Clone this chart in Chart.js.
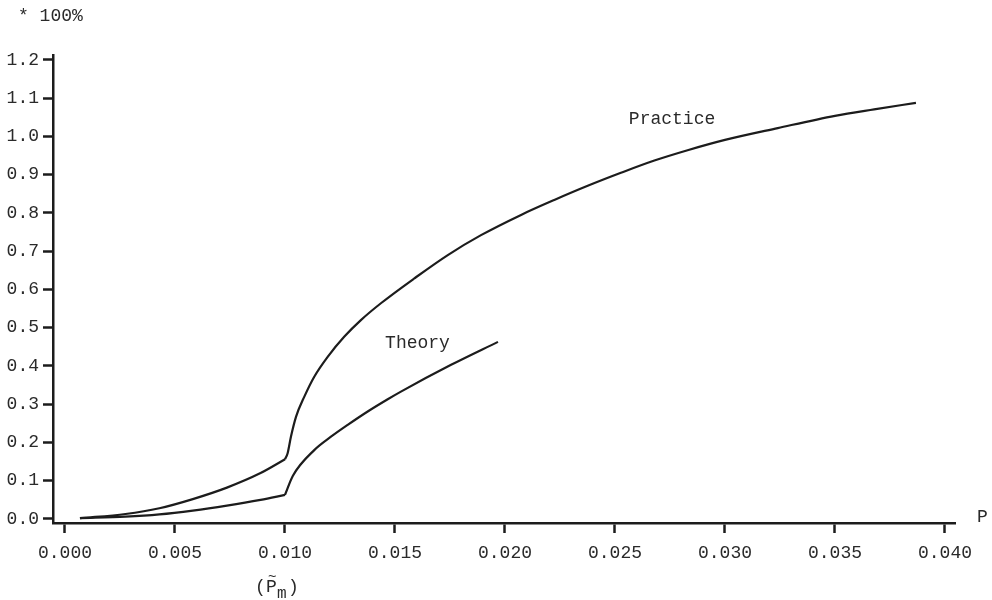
<!DOCTYPE html>
<html>
<head>
<meta charset="utf-8">
<script src="https://cdn.jsdelivr.net/npm/chart.js@4.4.1/dist/chart.umd.min.js"></script>
<style>
  html, body { margin: 0; padding: 0; background: #fff; }
  #wrap { width: 992px; height: 600px; position: relative; }
</style>
</head>
<body>
<div id="wrap"><canvas id="chart"></canvas></div>
<script>
// values
const practiceP = [0.00068, 0.00275, 0.00429, 0.00581, 0.00736, 0.00889, 0.0100,
  0.01012, 0.01027, 0.0105, 0.01088, 0.01133, 0.01194, 0.0127, 0.01345,
  0.01436, 0.01588, 0.0174, 0.01891, 0.02073, 0.02224, 0.02376, 0.02527,
  0.02679, 0.0283, 0.0300, 0.0324, 0.0350, 0.03678, 0.03868];
const practiceY = [0.002, 0.013, 0.028, 0.052, 0.082, 0.120, 0.156,
  0.172, 0.215, 0.267, 0.320, 0.372, 0.424, 0.477, 0.520,
  0.564, 0.629, 0.690, 0.742, 0.795, 0.834, 0.871, 0.905,
  0.937, 0.964, 0.991, 1.022, 1.054, 1.071, 1.088];

const theoryP = [0.00068, 0.00275, 0.00429, 0.00581, 0.00736, 0.00889, 0.0100,
  0.01036, 0.01133, 0.01209, 0.01285, 0.01376, 0.01467, 0.01527, 0.01755, 0.01968];
const theoryY = [0.002, 0.006, 0.012, 0.022, 0.035, 0.050, 0.063,
  0.113, 0.180, 0.215, 0.246, 0.281, 0.313, 0.333, 0.403, 0.463];

const xTicks = [0.000, 0.005, 0.010, 0.015, 0.020, 0.025, 0.030, 0.035, 0.040];
const yTicks = [0.0, 0.1, 0.2, 0.3, 0.4, 0.5, 0.6, 0.7, 0.8, 0.9, 1.0, 1.1, 1.2];

const kneeP = 0.010; // (P~m), both curves bend here
const ink = "#1c1c1c";
const textInk = "#2a2a2a";
const mono = "'Liberation Mono', 'DejaVu Sans Mono', monospace";

function toPoints(ps, ys) {
  return ps.map(function (p, i) { return { x: p, y: ys[i] }; });
}

// split a curve at the knee so the corner stays sharp
function splitAtKnee(points) {
  return [
    points.filter(function (pt) { return pt.x <= kneeP; }),
    points.filter(function (pt) { return pt.x >= kneeP; }),
  ];
}

function lineSet(data) {
  return {
    data: data,
    borderColor: ink,
    borderWidth: 2.2,
    pointRadius: 0,
    fill: false,
    cubicInterpolationMode: "monotone",
  };
}

const practiceParts = splitAtKnee(toPoints(practiceP, practiceY));
const theoryParts = splitAtKnee(toPoints(theoryP, theoryY));

const notes = {
  id: "notes",
  afterDraw(chart) {
    const ctx = chart.ctx;
    const xs = chart.scales.x;
    const ys = chart.scales.y;
    ctx.save();
    ctx.fillStyle = textInk;
    ctx.textBaseline = "middle";
    ctx.textAlign = "left";
    ctx.font = "18px " + mono;

    ctx.fillText("* 100%", 18, 16);
    ctx.fillText("Practice", xs.getPixelForValue(0.02563), ys.getPixelForValue(1.046));
    ctx.fillText("Theory", xs.getPixelForValue(0.01455), ys.getPixelForValue(0.46));
    ctx.fillText("P", chart.chartArea.right + 22, chart.chartArea.bottom - 6);

    // (P~m) under the 0.010 tick
    const kx = xs.getPixelForValue(kneeP) - 30;
    const ky = 587;
    ctx.fillText("(", kx, ky);
    ctx.fillText("P", kx + 11, ky);
    ctx.font = "14px " + mono;
    ctx.fillText("~", kx + 13, ky - 10);
    ctx.font = "16px " + mono;
    ctx.fillText("m", kx + 22, ky + 7);
    ctx.font = "18px " + mono;
    ctx.fillText(")", kx + 33, ky);
    ctx.restore();
  },
};

new Chart(document.getElementById("chart"), {
  type: "line",
  data: {
    datasets: [
      lineSet(practiceParts[0]),
      lineSet(practiceParts[1]),
      lineSet(theoryParts[0]),
      lineSet(theoryParts[1]),
    ],
  },
  options: {
    responsive: true,
    maintainAspectRatio: false,
    animation: false,
    layout: { padding: { top: 55, right: 37, left: 0, bottom: 0 } },
    plugins: { legend: { display: false }, tooltip: { enabled: false } },
    scales: {
      x: {
        type: "linear",
        min: -0.000545,
        max: 0.040455,
        afterFit: function (s) { s.height = 77; },
        afterBuildTicks: function (s) {
          s.ticks = xTicks.map(function (v) { return { value: v }; });
        },
        ticks: {
          color: textInk,
          font: { family: mono, size: 18 },
          padding: 9,
          maxRotation: 0,
          autoSkip: false,
          callback: function (v) { return Number(v).toFixed(3); },
        },
        grid: {
          drawOnChartArea: false,
          drawTicks: true,
          tickLength: 10,
          tickWidth: 2.5,
          tickColor: ink,
        },
        border: { display: true, width: 2.5, color: ink },
      },
      y: {
        type: "linear",
        min: -0.0105,
        max: 1.213,
        afterFit: function (s) { s.width = 53; },
        afterBuildTicks: function (s) {
          s.ticks = yTicks.map(function (v) { return { value: v }; });
        },
        ticks: {
          color: textInk,
          font: { family: mono, size: 18 },
          padding: 4,
          autoSkip: false,
          callback: function (v) { return Number(v).toFixed(1); },
        },
        grid: {
          drawOnChartArea: false,
          drawTicks: true,
          tickLength: 10,
          tickWidth: 2.5,
          tickColor: ink,
        },
        border: { display: true, width: 2.5, color: ink },
      },
    },
  },
  plugins: [notes],
});
</script>
</body>
</html>
